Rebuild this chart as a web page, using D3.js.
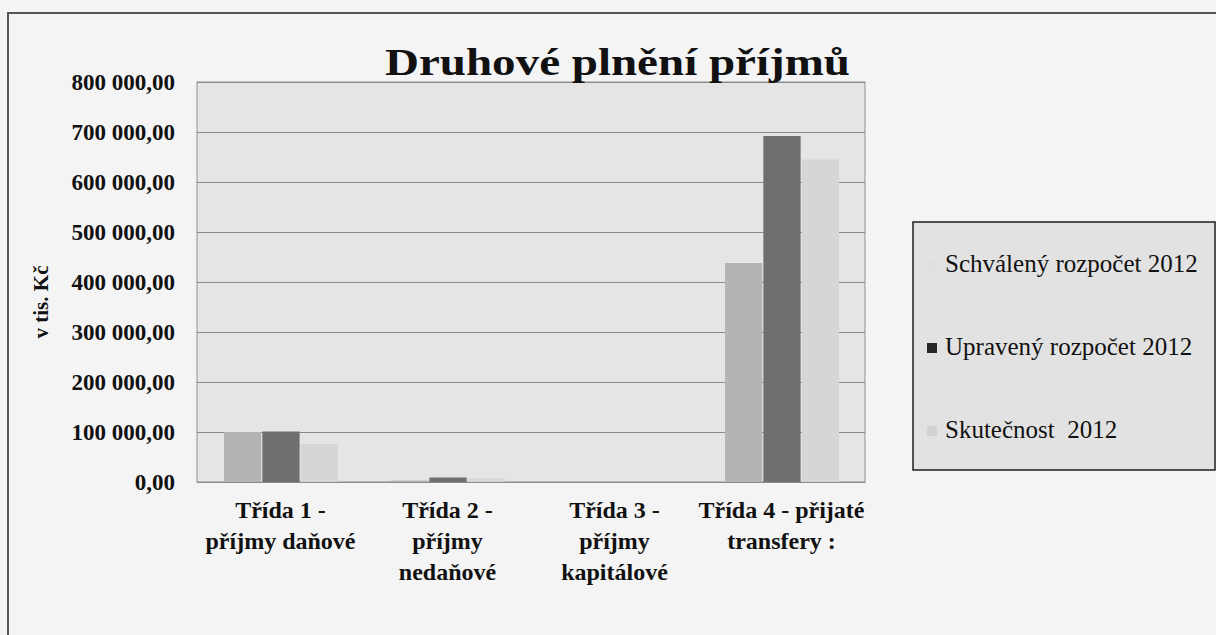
<!DOCTYPE html>
<html lang="cs">
  <head>
    <meta charset="UTF-8" />
    <title>Druhové plnění příjmů</title>
    <style>
      body { margin: 0; background: #f4f4f4; }
      svg { display: block; font-family: "Liberation Serif", "Times New Roman", serif; }
    </style>
  </head>
  <body>
    <svg id="svg" width="1216" height="635"></svg>

    <script src="https://cdn.jsdelivr.net/npm/d3@7"></script>
    <script>
      const WIDTH = 1216;
      const HEIGHT = 635;
      const PLOT = { left: 197, right: 865, top: 82, bottom: 482 };

      const CATEGORIES = [
        ["Třída 1 -", "příjmy daňové"],
        ["Třída 2 -", "příjmy", "nedaňové"],
        ["Třída 3 -", "příjmy", "kapitálové"],
        ["Třída 4 - přijaté", "transfery :"],
      ];
      const SERIES = ["Schválený rozpočet 2012", "Upravený rozpočet 2012", "Skutečnost  2012"];
      const SCHVALENY = [100000, 3000, 0, 438000];
      const UPRAVENY = [101000, 9000, 0, 692000];
      const SKUTECNOST = [76000, 7000, 0, 645000];
      const Y_TICKS = [0, 100000, 200000, 300000, 400000, 500000, 600000, 700000, 800000];

      const BAR_COLORS = ["#b4b4b4", "#6f6f6f", "#d6d6d6"];
      const MARKER_COLORS = ["#e0e0e0", "#262626", "#d2d2d2"];

      const values = [SCHVALENY, UPRAVENY, SKUTECNOST];

      const locale = d3.formatLocale({ decimal: ",", thousands: " ", grouping: [3], currency: ["", " Kč"] });
      const fmt = locale.format(",.2f");

      const svg = d3.select("#svg");

      // background + outer frame
      svg.append("rect").attr("width", WIDTH).attr("height", HEIGHT).attr("fill", "#f4f4f4");
      svg.append("rect")
        .attr("x", 8).attr("y", 13)
        .attr("width", WIDTH).attr("height", HEIGHT)
        .attr("fill", "none").attr("stroke", "#555").attr("stroke-width", 2);

      // scales
      const x0 = d3.scaleBand().domain(d3.range(CATEGORIES.length)).range([PLOT.left, PLOT.right]);
      const x1 = d3.scaleBand().domain(d3.range(SERIES.length)).range([27, 141]).paddingInner(0.03);
      const y = d3.scaleLinear().domain([0, 800000]).range([PLOT.bottom, PLOT.top]);

      // plot area
      svg.append("rect")
        .attr("x", PLOT.left).attr("y", PLOT.top)
        .attr("width", PLOT.right - PLOT.left).attr("height", PLOT.bottom - PLOT.top)
        .attr("fill", "#e5e5e5").attr("stroke", "#8f8f8f").attr("stroke-width", 1);

      // gridlines
      const grid = svg.append("g")
        .attr("transform", `translate(${PLOT.left},0)`)
        .call(d3.axisLeft(y).tickValues(Y_TICKS).tickSize(-(PLOT.right - PLOT.left)).tickFormat(""));
      grid.select(".domain").remove();
      grid.selectAll("line").attr("stroke", "#8a8a8a").attr("stroke-width", 1);

      // bars
      const groups = svg.append("g").selectAll("g")
        .data(CATEGORIES.map((c, i) => i))
        .join("g")
        .attr("transform", (i) => `translate(${x0(i)},0)`);

      groups.selectAll("rect")
        .data((i) => values.map((v, s) => ({ s, v: v[i] })))
        .join("rect")
        .attr("x", (d) => x1(d.s))
        .attr("width", x1.bandwidth())
        .attr("y", (d) => y(d.v))
        .attr("height", (d) => y(0) - y(d.v))
        .attr("fill", (d) => BAR_COLORS[d.s]);

      // y axis labels
      const yAxis = svg.append("g")
        .attr("transform", `translate(${PLOT.left},0)`)
        .call(d3.axisLeft(y).tickValues(Y_TICKS).tickSize(0).tickPadding(22).tickFormat(fmt));
      yAxis.select(".domain").remove();
      yAxis.selectAll("text")
        .attr("font-family", "Liberation Serif")
        .attr("font-size", 23)
        .attr("font-weight", "bold")
        .attr("fill", "#111");

      // x axis labels (multi-line)
      const xAxis = svg.append("g")
        .attr("transform", `translate(0,${PLOT.bottom})`)
        .call(d3.axisBottom(x0).tickSize(0).tickFormat(""));
      xAxis.select(".domain").attr("stroke", "#8a8a8a");
      xAxis.selectAll(".tick text")
        .attr("font-family", "Liberation Serif")
        .attr("font-size", 24)
        .attr("font-weight", "bold")
        .attr("fill", "#111")
        .attr("y", 0)
        .attr("dy", null)
        .each(function (i) {
          const t = d3.select(this);
          CATEGORIES[i].forEach((line, k) => {
            t.append("tspan").attr("x", 0).attr("y", 36 + k * 31).text(line);
          });
        });

      // y axis title
      svg.append("text")
        .attr("transform", "translate(48,302) rotate(-90)")
        .attr("text-anchor", "middle")
        .attr("font-size", 21)
        .attr("font-weight", "bold")
        .attr("fill", "#111")
        .text("v tis. Kč");

      // title
      svg.append("text")
        .attr("x", 385).attr("y", 75)
        .attr("font-size", 38)
        .attr("font-weight", "bold")
        .attr("fill", "#111")
        .attr("textLength", 465)
        .attr("lengthAdjust", "spacingAndGlyphs")
        .text("Druhové plnění příjmů");

      // legend
      const legend = svg.append("g").attr("transform", "translate(913,222)");
      legend.append("rect")
        .attr("width", 302).attr("height", 248)
        .attr("fill", "#e2e2e2").attr("stroke", "#1e1e1e").attr("stroke-width", 1.5);
      const items = legend.selectAll("g.item")
        .data(SERIES)
        .join("g")
        .attr("class", "item")
        .attr("transform", (d, i) => `translate(0,${50 + i * 83})`);
      items.append("rect")
        .attr("x", 14).attr("y", -12)
        .attr("width", 10).attr("height", 10)
        .attr("fill", (d, i) => MARKER_COLORS[i]);
      items.append("text")
        .attr("x", 32).attr("y", 0)
        .attr("font-size", 25)
        .attr("fill", "#111")
        .style("white-space", "pre")
        .text((d) => d);
    </script>
  </body>
</html>
